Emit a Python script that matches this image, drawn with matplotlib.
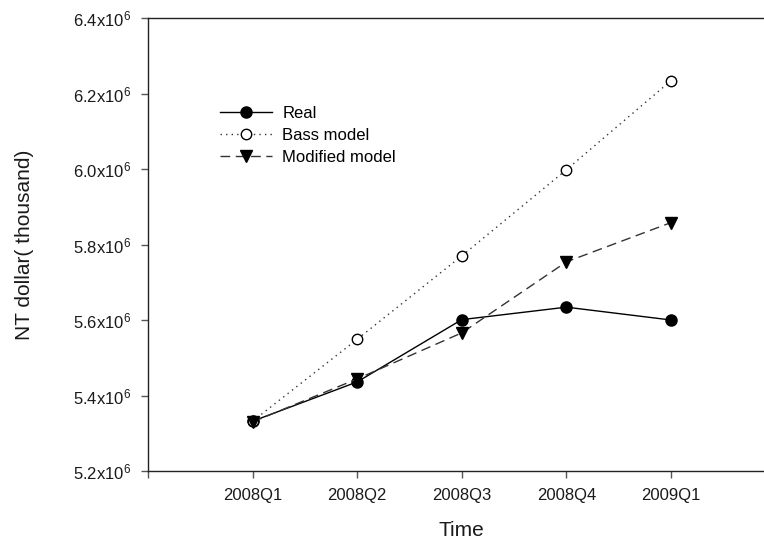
import matplotlib
matplotlib.use("Agg")
import matplotlib.pyplot as plt
import numpy as np

plt.rcParams['font.family'] = ['Liberation Sans', 'DejaVu Sans']
plt.rcParams['mathtext.default'] = 'regular'

quarters = ['2008Q1', '2008Q2', '2008Q3', '2008Q4', '2009Q1']
real = [5.332e6, 5.436e6, 5.601e6, 5.634e6, 5.600e6]
bass = [5.332e6, 5.549e6, 5.770e6, 5.998e6, 6.234e6]
modified = [5.330e6, 5.444e6, 5.566e6, 5.754e6, 5.858e6]
yticks = [5.2e6, 5.4e6, 5.6e6, 5.8e6, 6.0e6, 6.2e6, 6.4e6]

x = np.arange(1, len(quarters) + 1)

fig = plt.figure(figsize=(7.64, 5.42), dpi=100)
# axes run past the right edge of the figure, like the cropped original
ax = fig.add_axes([148 / 764, 71 / 542, 627.6 / 764, 453 / 542])

ax.plot(x, real, '-', color='black', lw=1.0, marker='o', ms=8,
        mfc='black', mec='black', label='Real')
ax.plot(x, bass, color='#333333', lw=1.0, linestyle=(0, (1, 3)), marker='o', ms=7.5,
        mfc='white', mec='black', mew=1.0, label='Bass model')
ax.plot(x, modified, color='#333333', lw=1.0, linestyle=(0, (7, 4)), marker='v', ms=8,
        mfc='black', mec='black', label='Modified model')

ax.set_xlim(0, 6)
ax.set_ylim(5.2e6, 6.4e6)
ax.set_xticks(range(0, 7))
ax.set_xticklabels([''] + quarters + [''])
ax.set_yticks(yticks)
ax.set_yticklabels(['%.1fx10$^{6}$' % (v / 1e6) for v in yticks])

ax.tick_params(axis='both', direction='out', length=5, width=1, color='#555555',
               labelsize=12, labelcolor='#1a1a1a')
ax.tick_params(axis='x', pad=7)
ax.tick_params(axis='y', pad=7)

for s in ['left', 'bottom', 'top']:
    ax.spines[s].set_linewidth(1.0)
    ax.spines[s].set_color('#222222')
ax.spines['right'].set_visible(False)

ax.set_xlabel('Time', fontsize=15, labelpad=13, color='#1a1a1a')
ax.set_ylabel('NT dollar( thousand)', fontsize=15, color='#1a1a1a')
ax.yaxis.set_label_coords(-0.182, 0.5)

ax.legend(loc='center left', bbox_to_anchor=((220 - 148) / 627.6, (471 - 135) / 453),
          frameon=False, fontsize=12, handlelength=3.1, handletextpad=0.65,
          labelspacing=0.42, borderpad=0, borderaxespad=0)

fig.savefig('out.png', dpi=100)
